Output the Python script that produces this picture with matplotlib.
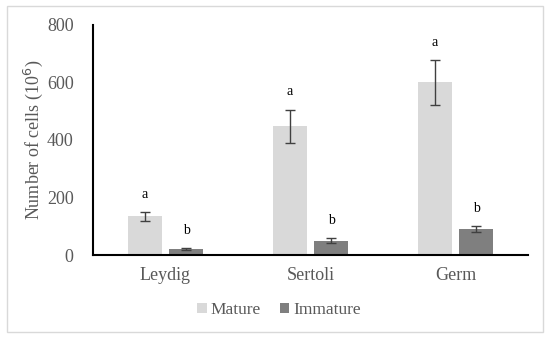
import matplotlib
matplotlib.use("Agg")
import matplotlib.pyplot as plt
import numpy as np
from matplotlib.patches import Rectangle

categories = ["Leydig", "Sertoli", "Germ"]
mature = [135, 447, 600]
mature_err = [15, 58, 78]
immature = [20, 50, 90]
immature_err = [3, 8, 10]
mature_letters = ["a", "a", "a"]
immature_letters = ["b", "b", "b"]
yticks = [0, 200, 400, 600, 800]

plt.rcParams['font.family'] = ['Liberation Serif', 'DejaVu Serif']

fig = plt.figure(figsize=(5.5, 3.38), dpi=100)
ax = fig.add_axes([93/550, 1-255/338, (528-93)/550, 230/338])

x = np.arange(len(categories))
w = 0.235
off = 0.143
ax.bar(x - off, mature, w, color="#d9d9d9", label="Mature", zorder=2)
ax.bar(x + off, immature, w, color="#7f7f7f", label="Immature", zorder=2)
ax.errorbar(x - off, mature, yerr=mature_err, fmt="none", ecolor="#404040",
            elinewidth=1, capsize=3.5, capthick=1, zorder=3)
ax.errorbar(x + off, immature, yerr=immature_err, fmt="none", ecolor="#404040",
            elinewidth=1, capsize=3.5, capthick=1, zorder=3)
for i in range(len(categories)):
    ax.text(x[i] - off, mature[i] + mature_err[i] + 62, mature_letters[i],
            ha="center", va="center", fontsize=10, color="black")
    ax.text(x[i] + off, immature[i] + immature_err[i] + 62, immature_letters[i],
            ha="center", va="center", fontsize=10, color="black")

ax.set_xlim(-0.5, 2.5)
ax.set_ylim(0, 800)
ax.set_yticks(yticks)
ax.set_xticks(x)
ax.set_xticklabels(categories)
ax.tick_params(axis="both", length=0, labelsize=13, labelcolor="#595959")
ax.tick_params(axis="x", pad=9)
ax.tick_params(axis="y", pad=14)
for s in ["top", "right"]:
    ax.spines[s].set_visible(False)
ax.spines["left"].set_color("black")
ax.spines["bottom"].set_color("black")
ax.spines["left"].set_linewidth(1.5)
ax.spines["bottom"].set_linewidth(1.5)
ax.set_ylabel("Number of cells (10$^6$)", fontsize=13, color="#595959", labelpad=1.5)

leg = fig.legend(loc="center", bbox_to_anchor=(279/550, 1-310/338), ncol=2,
                 frameon=False, fontsize=12.5, handlelength=0.55, handleheight=0.55,
                 handletextpad=0.2, columnspacing=1.1)
for t in leg.get_texts():
    t.set_color("#595959")

fig.patches.append(Rectangle((7/550, 6/338), 536/550, 326/338, transform=fig.transFigure,
                             fill=False, edgecolor="#d9d9d9", linewidth=1))
fig.savefig("out.png", dpi=100)
